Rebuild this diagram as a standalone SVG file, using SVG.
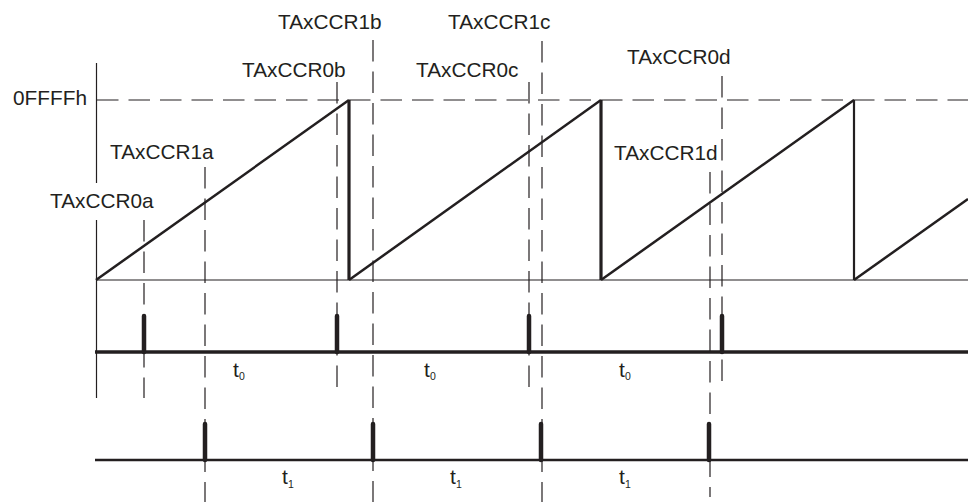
<svg xmlns="http://www.w3.org/2000/svg" width="968" height="502" viewBox="0 0 968 502">
<style>
.lbl{font-family:"Liberation Sans",Arial,sans-serif;font-size:20.8px;fill:#231f20}
.t{font-family:"Liberation Sans",Arial,sans-serif;font-size:21px;fill:#231f20}
.sub{font-family:"Liberation Sans",Arial,sans-serif;font-size:10.5px;fill:#231f20}
.dash{stroke:#231f20;stroke-width:1.2;stroke-dasharray:21.5 10;fill:none}
.thin{stroke:#231f20;stroke-width:1.2;fill:none}
.ramp{stroke:#231f20;stroke-width:2.5;fill:none;stroke-linejoin:miter}
.drop{stroke:#231f20;stroke-width:3.2;fill:none}
.pulse{stroke:#231f20;stroke-width:4.5;stroke-linecap:round;fill:none}
</style>
<rect width="968" height="502" fill="#ffffff"/>
<g id="connectors">
  <line class="thin" x1="96.5" y1="63" x2="96.5" y2="183"/>
  <line class="thin" x1="96.5" y1="220" x2="96.5" y2="398"/>
  <line class="thin" x1="96" y1="280" x2="968" y2="280"/>
  <line class="dash" x1="97" y1="100" x2="968" y2="100"/>
  <line class="dash" x1="144" y1="220" x2="144" y2="398"/>
  <line class="dash" x1="205" y1="167" x2="205" y2="502"/>
  <line class="dash" x1="337" y1="82" x2="337" y2="391"/>
  <line class="dash" x1="373" y1="40" x2="373" y2="502"/>
  <line class="dash" x1="529" y1="82" x2="529" y2="391"/>
  <line class="dash" x1="542" y1="41" x2="542" y2="502"/>
  <line class="dash" x1="710" y1="172" x2="710" y2="497"/>
  <line class="dash" x1="722" y1="76" x2="722" y2="385"/>
  <polyline class="ramp" points="96,280 349,100"/>
  <polyline class="ramp" points="349,280 601,100"/>
  <polyline class="ramp" points="601,280 854,100"/>
  <polyline class="ramp" points="854,280 968,199"/>
  <line class="drop" x1="349" y1="100" x2="349" y2="280"/>
  <line class="drop" x1="601" y1="100" x2="601" y2="280"/>
  <line class="thin" style="stroke-width:2.2" x1="854" y1="100" x2="854" y2="280"/>
  <line class="thin" style="stroke-width:3.4" x1="95" y1="352" x2="968" y2="352"/>
  <line class="pulse" x1="144" y1="316" x2="144" y2="352"/>
  <line class="pulse" x1="337" y1="316" x2="337" y2="352"/>
  <line class="pulse" x1="529" y1="316" x2="529" y2="352"/>
  <line class="pulse" x1="722" y1="316" x2="722" y2="352"/>
  <line class="thin" style="stroke-width:2.6" x1="95" y1="460" x2="968" y2="460"/>
  <line class="pulse" x1="205" y1="424" x2="205" y2="460"/>
  <line class="pulse" x1="373" y1="424" x2="373" y2="460"/>
  <line class="pulse" x1="541" y1="424" x2="541" y2="460"/>
  <line class="pulse" x1="709" y1="424" x2="709" y2="460"/>
</g>
<g id="label-0FFFFh"><text class="lbl" x="13" y="105">0FFFFh</text></g>
<g id="label-TAxCCR0a"><text class="lbl" x="50" y="208">TAxCCR0a</text></g>
<g id="label-TAxCCR1a"><text class="lbl" x="110" y="159">TAxCCR1a</text></g>
<g id="label-TAxCCR0b"><text class="lbl" x="242" y="77">TAxCCR0b</text></g>
<g id="label-TAxCCR1b"><text class="lbl" x="278" y="29">TAxCCR1b</text></g>
<g id="label-TAxCCR0c"><text class="lbl" x="416" y="77">TAxCCR0c</text></g>
<g id="label-TAxCCR1c"><text class="lbl" x="448" y="29">TAxCCR1c</text></g>
<g id="label-TAxCCR0d"><text class="lbl" x="627" y="64">TAxCCR0d</text></g>
<g id="label-TAxCCR1d"><text class="lbl" x="614" y="160">TAxCCR1d</text></g>
<g id="label-t0a"><text class="t" x="233" y="377">t</text><text class="sub" x="239" y="380">0</text></g>
<g id="label-t0b"><text class="t" x="424" y="377">t</text><text class="sub" x="430" y="380">0</text></g>
<g id="label-t0c"><text class="t" x="619" y="377">t</text><text class="sub" x="625" y="380">0</text></g>
<g id="label-t1a"><text class="t" x="282" y="484">t</text><text class="sub" x="288" y="488">1</text></g>
<g id="label-t1b"><text class="t" x="450" y="484">t</text><text class="sub" x="456" y="488">1</text></g>
<g id="label-t1c"><text class="t" x="619" y="484">t</text><text class="sub" x="625" y="488">1</text></g>
</svg>
